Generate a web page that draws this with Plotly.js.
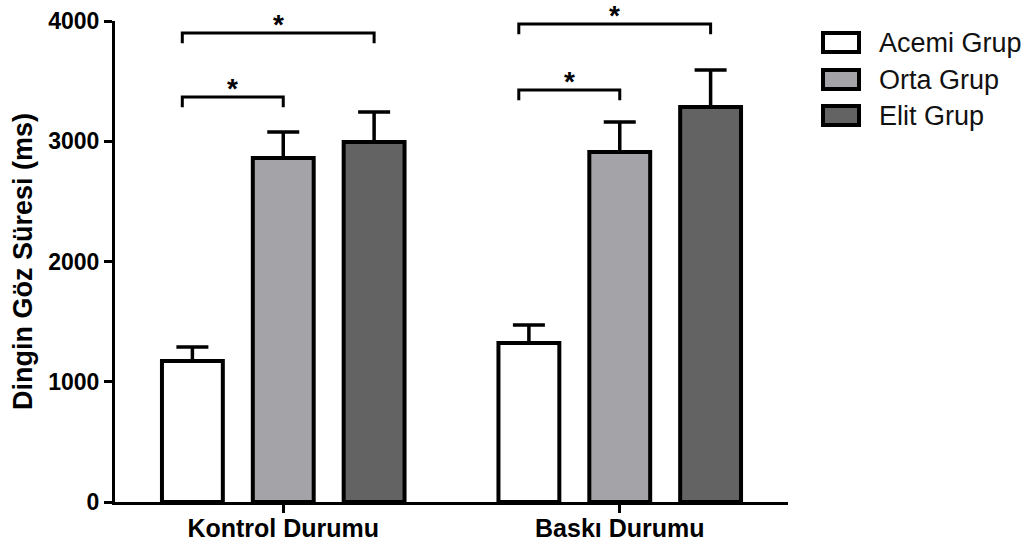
<!DOCTYPE html>
<html>
<head>
<meta charset="utf-8">
<script src="https://cdn.plot.ly/plotly-3.0.1.min.js"></script>
<style>html,body{margin:0;padding:0;background:#fff;}#chart{width:1034px;height:547px;}</style>
</head>
<body>
<div id="chart"></div>
<script>
// ---- data ----
var categories = ['Kontrol Durumu', 'Baskı Durumu'];
var seriesNames = ['Acemi Grup', 'Orta Grup', 'Elit Grup'];
var acemiValues = [1172, 1322];
var acemiErrors = [117, 150];
var ortaValues = [2861, 2911];
var ortaErrors = [216, 249];
var elitValues = [2994, 3285];
var elitErrors = [250, 308];
var yTickValues = [0, 1000, 2000, 3000, 4000];
// significance brackets: group index, from series, to series, bracket level, label
var bracketGroup = [0, 0, 1, 1];
var bracketFrom = [0, 0, 0, 0];
var bracketTo = [1, 2, 1, 2];
var bracketLevel = [3368, 3900, 3426, 3975];
var bracketLabel = ['*', '*', '*', '*'];

// ---- styles ----
var colors = ['#ffffff', '#a4a3a8', '#636363'];
var FONT = 'Liberation Sans, Arial, sans-serif';
var bargap = 0.19;
var slot = (1 - bargap) / 3;
var legLen = 85;
var bracketLeftShift = -0.03;

var values = [acemiValues, ortaValues, elitValues];
var errors = [acemiErrors, ortaErrors, elitErrors];
var xIdx = categories.map(function (c, i) { return i; });

var traces = seriesNames.map(function (name, s) {
  return {
    type: 'bar',
    name: name,
    x: xIdx,
    y: values[s],
    marker: { color: colors[s], line: { color: '#000', width: 4 } },
    error_y: {
      type: 'data', array: errors[s], symmetric: false,
      arrayminus: errors[s].map(function () { return 0; }),
      color: '#000', thickness: 3.5, width: 16
    },
    showlegend: false,
    hoverinfo: 'none'
  };
});

function barCenter(g, s) { return g + (s - 1) * slot; }

var shapes = [];
var annotations = [];
for (var i = 0; i < bracketGroup.length; i++) {
  var x0 = barCenter(bracketGroup[i], bracketFrom[i]) + bracketLeftShift;
  var x1 = barCenter(bracketGroup[i], bracketTo[i]);
  var y = bracketLevel[i];
  shapes.push({
    type: 'path', xref: 'x', yref: 'y',
    path: 'M' + x0 + ',' + (y - legLen) + ' L' + x0 + ',' + y + ' L' + x1 + ',' + y + ' L' + x1 + ',' + (y - legLen),
    line: { color: '#000', width: 3 }
  });
  annotations.push({
    x: (x0 + x1) / 2, y: y, xref: 'x', yref: 'y', text: bracketLabel[i],
    showarrow: false, yanchor: 'bottom', yshift: -9,
    font: { family: FONT, size: 28, color: '#000', weight: 'bold' }
  });
}

// custom legend (paper coordinates)
var plotL = 115, plotR = 788, plotT = 21, plotB = 502;
function px2x(p) { return (p - plotL) / (plotR - plotL); }
function px2y(p) { return (plotB - p) / (plotB - plotT); }
var legTop = [33, 70, 106];
seriesNames.forEach(function (name, s) {
  shapes.push({
    type: 'rect', xref: 'paper', yref: 'paper',
    x0: px2x(823), x1: px2x(859), y0: px2y(legTop[s] + 19), y1: px2y(legTop[s]),
    fillcolor: colors[s], line: { color: '#000', width: 4 }
  });
  annotations.push({
    x: px2x(877), y: px2y(legTop[s] + 10), xref: 'paper', yref: 'paper',
    text: name, showarrow: false, xanchor: 'left', yanchor: 'middle',
    font: { family: FONT, size: 27, color: '#111' }
  });
});

var layout = {
  width: 1034, height: 547,
  margin: { l: plotL, r: 1034 - plotR, t: plotT, b: 547 - plotB },
  paper_bgcolor: '#fff', plot_bgcolor: '#fff',
  barmode: 'group', bargap: bargap, bargroupgap: 0.33,
  font: { family: FONT, color: '#000' },
  xaxis: {
    range: [-0.5, 1.5], tickvals: xIdx, ticktext: categories,
    showline: true, linecolor: '#000', linewidth: 3,
    ticks: 'outside', ticklen: 8, tickwidth: 3, tickcolor: '#000',
    ticklabelstandoff: -6,
    showgrid: false, zeroline: false, fixedrange: true,
    tickfont: { family: FONT, size: 25, color: '#000', weight: 'bold' }
  },
  yaxis: {
    range: [0, 4000], tickvals: yTickValues,
    showline: true, linecolor: '#000', linewidth: 3,
    ticks: 'outside', ticklen: 8, tickwidth: 3, tickcolor: '#000',
    showgrid: false, zeroline: false, fixedrange: true,
    tickfont: { family: FONT, size: 23, color: '#000', weight: 'bold' },
    title: { text: 'Dingin Göz Süresi (ms)', standoff: 8,
      font: { family: FONT, size: 27, color: '#000', weight: 'bold' } }
  },
  shapes: shapes,
  annotations: annotations,
  showlegend: false
};

Plotly.newPlot('chart', traces, layout, { displayModeBar: false, staticPlot: true });
</script>
</body>
</html>
